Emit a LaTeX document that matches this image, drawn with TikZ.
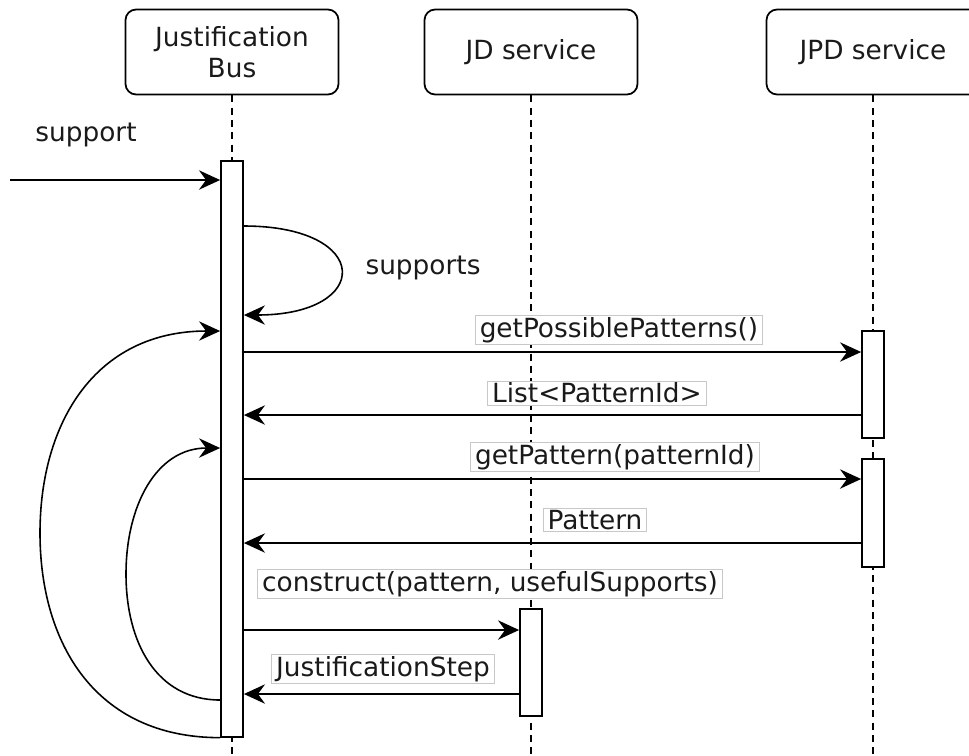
\documentclass[tikz,border=0pt]{standalone}
\usepackage{fontspec}
\setmainfont{DejaVu Sans}
\usepackage{xcolor}
\usepackage{tikz}
\usetikzlibrary{arrows.meta, positioning, calc}
\definecolor{inkdark}{HTML}{1A1A1A}
\definecolor{labelframe}{HTML}{C8C8C8}

\begin{document}
\begin{tikzpicture}[
  x=0.02cm, y=-0.02cm,
  font=\fontsize{15pt}{18pt}\selectfont,
  actor/.style={rectangle, rounded corners=6pt, draw=black, line width=1pt, fill=white, minimum width=4.26cm, minimum height=1.7cm, align=center, text=inkdark},
  activation/.style={rectangle, draw=black, line width=1pt, fill=white, minimum width=0.44cm, inner sep=0pt, anchor=north},
  lifeline/.style={dash pattern=on 4pt off 3pt, line width=0.7pt},
  msg/.style={-{Stealth[length=12pt, width=11pt, inset=4pt]}, line width=1.2pt, color=black},
  loopback/.style={-{Stealth[length=12pt, width=11pt, inset=4pt]}, line width=0.9pt, color=black},
  msglabel/.style={draw=labelframe, fill=white, line width=0.5pt, inner xsep=2.5pt, inner ysep=1pt, text=inkdark},
  plainlabel/.style={text=inkdark},
]
  \useasboundingbox (0,0) rectangle (969,755);

  \node[actor] (bus) at (232,52) {Justification\\Bus};
  \node[actor] (jd) at (531,52) {JD service};
  \node[actor] (jpd) at (873,52) {JPD service};

  \coordinate (bottom) at (0,755);
  \draw[lifeline] (bus.south) -- (bus.south |- bottom);
  \draw[lifeline] (jd.south) -- (jd.south |- bottom);
  \draw[lifeline] (jpd.south) -- (jpd.south |- bottom);

  \node[activation, minimum height=11.52cm] (busbar) at (232,160) {};
  \node[activation, minimum height=2.14cm] (jpdbarA) at (873,330) {};
  \node[activation, minimum height=2.16cm] (jpdbarB) at (873,458) {};
  \node[activation, minimum height=2.14cm] (jdbar) at (531,608) {};

  \coordinate (source) at (10,180);
  \coordinate (m1) at (0,352);
  \coordinate (m2) at (0,415);
  \coordinate (m3) at (0,479);
  \coordinate (m4) at (0,543);
  \coordinate (m5) at (0,630);
  \coordinate (m6) at (0,694);
  \coordinate (outerturn) at (40,533);
  \coordinate (innerturn) at (126,574);

  \node[plainlabel] (supportlbl) at (86,135) {support};
  \draw[msg] (source) -- (busbar.west |- source);

  \node[plainlabel] (supportslbl) at (423,268) {supports};
  \draw[loopback] (busbar.east |- 0,226) .. controls +(129,0) and +(129,0) .. (busbar.east |- 0,315);

  \node[msglabel] (possible) at (619,330) {getPossiblePatterns()};
  \draw[msg] (busbar.east |- m1) -- (jpdbarA.west |- m1);
  \node[msglabel] (idlist) at (597,393) {List<PatternId>};
  \draw[msg] (jpdbarA.west |- m2) -- (busbar.east |- m2);

  \node[msglabel] (getpat) at (615,457) {getPattern(patternId)};
  \draw[msg] (busbar.east |- m3) -- (jpdbarB.west |- m3);
  \node[msglabel] (patret) at (595,520) {Pattern};
  \draw[msg] (jpdbarB.west |- m4) -- (busbar.east |- m4);

  \node[msglabel] (construct) at (490,584) {construct(pattern, usefulSupports)};
  \draw[msg] (busbar.east |- m5) -- (jdbar.west |- m5);
  \node[msglabel] (stepret) at (383,669) {JustificationStep};
  \draw[msg] (jdbar.west |- m6) -- (busbar.east |- m6);

  \draw[loopback] (busbar.south west) .. controls +(-125,0) and +(0,110) .. (outerturn)
    .. controls +(0,-110) and +(-125,0) .. (busbar.west |- 0,331);
  \draw[loopback] (busbar.west |- 0,700) .. controls +(-64,0) and +(0,68) .. (innerturn)
    .. controls +(0,-68) and +(-64,0) .. (busbar.west |- 0,448);

\end{tikzpicture}
\end{document}
